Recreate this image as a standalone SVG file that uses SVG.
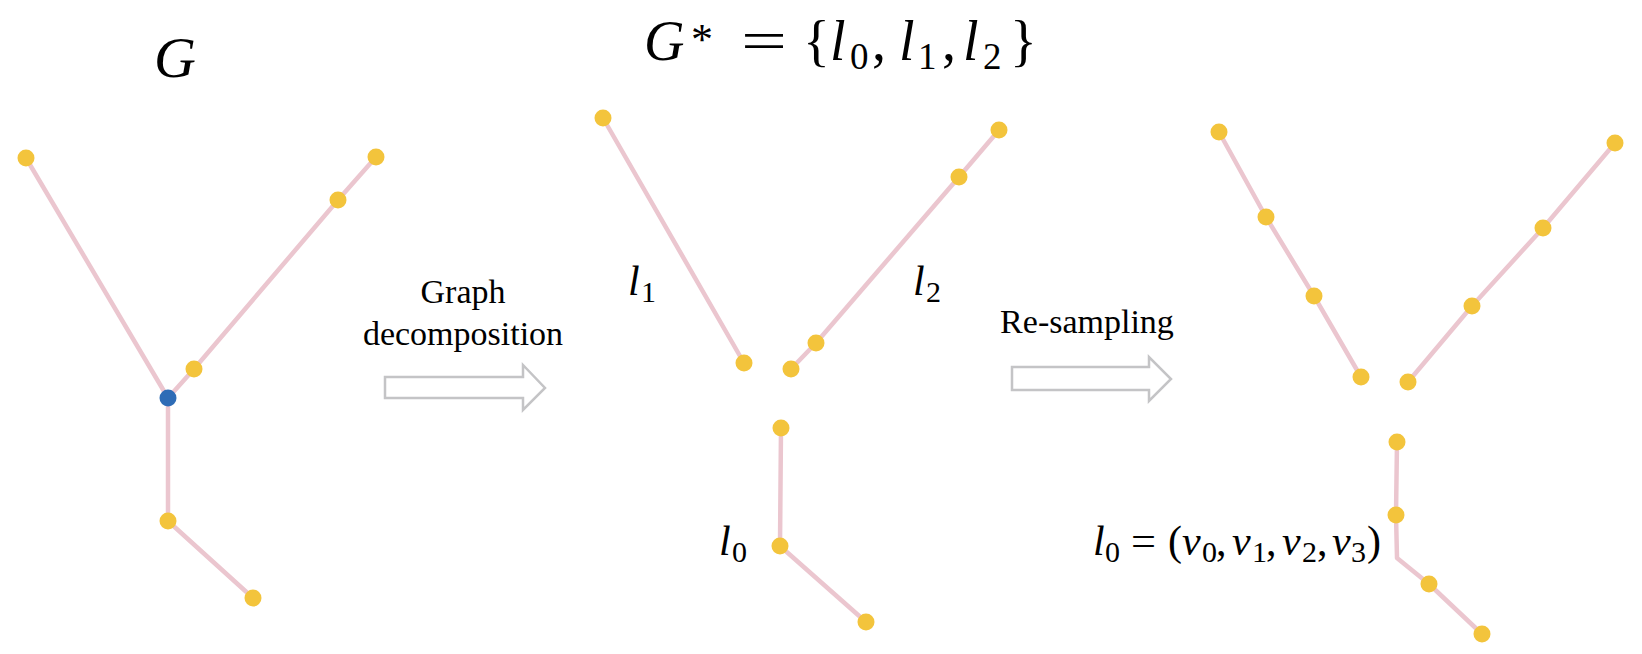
<svg xmlns="http://www.w3.org/2000/svg" width="1642" height="654" viewBox="0 0 1642 654">
<style>
.e{fill:none;stroke:#ebc6cf;stroke-width:4.5;stroke-linecap:round;stroke-linejoin:round}
.n{fill:#f3c43c}
.b{fill:#2e6cb6}
.m{font-family:"Liberation Serif",serif;fill:#000}
.i{font-style:italic}
.t{font-family:"Liberation Serif",serif;font-size:34px;fill:#000;text-anchor:middle}
.ar{fill:#fff;stroke:#c4c4c6;stroke-width:2.5;stroke-linejoin:miter}
</style>
<rect width="1642" height="654" fill="#fff"/>
<g id="connectors">
  <polyline class="e" points="26,158 168,398"/>
  <polyline class="e" points="168,398 194,369 338,200 376,157"/>
  <polyline class="e" points="168,398 168,521 253,598"/>
  <polyline class="e" points="603,118 744,363"/>
  <polyline class="e" points="999,130 959,177 816,343 791,369"/>
  <polyline class="e" points="781,428 780,546 866,622"/>
  <polyline class="e" points="1219,132 1266,217 1314,296 1361,377"/>
  <polyline class="e" points="1615,143 1543,228 1472,306 1408,382"/>
  <polyline class="e" points="1397,442 1396,515 1397,558 1429,584 1482,634"/>
  <path id="arrow1" class="ar" d="M385,377 H523 V365 L545,388 L523,410 V398 H385 Z"/>
  <path id="arrow2" class="ar" d="M1012,367 H1149 V357 L1171,379 L1149,401 V390 H1012 Z"/>
</g>
<g id="graph-G">
  <circle class="n" cx="26" cy="158" r="8.5"/>
  <circle class="n" cx="376" cy="157" r="8.5"/>
  <circle class="n" cx="338" cy="200" r="8.5"/>
  <circle class="n" cx="194" cy="369" r="8.5"/>
  <circle class="b" cx="168" cy="398" r="8.5"/>
  <circle class="n" cx="168" cy="521" r="8.5"/>
  <circle class="n" cx="253" cy="598" r="8.5"/>
</g>
<g id="graph-decomposed">
  <circle class="n" cx="603" cy="118" r="8.5"/>
  <circle class="n" cx="744" cy="363" r="8.5"/>
  <circle class="n" cx="999" cy="130" r="8.5"/>
  <circle class="n" cx="959" cy="177" r="8.5"/>
  <circle class="n" cx="816" cy="343" r="8.5"/>
  <circle class="n" cx="791" cy="369" r="8.5"/>
  <circle class="n" cx="781" cy="428" r="8.5"/>
  <circle class="n" cx="780" cy="546" r="8.5"/>
  <circle class="n" cx="866" cy="622" r="8.5"/>
</g>
<g id="graph-resampled">
  <circle class="n" cx="1219" cy="132" r="8.5"/>
  <circle class="n" cx="1266" cy="217" r="8.5"/>
  <circle class="n" cx="1314" cy="296" r="8.5"/>
  <circle class="n" cx="1361" cy="377" r="8.5"/>
  <circle class="n" cx="1615" cy="143" r="8.5"/>
  <circle class="n" cx="1543" cy="228" r="8.5"/>
  <circle class="n" cx="1472" cy="306" r="8.5"/>
  <circle class="n" cx="1408" cy="382" r="8.5"/>
  <circle class="n" cx="1397" cy="442" r="8.5"/>
  <circle class="n" cx="1396" cy="515" r="8.5"/>
  <circle class="n" cx="1429" cy="584" r="8.5"/>
  <circle class="n" cx="1482" cy="634" r="8.5"/>
</g>
<g id="labels">
  <text class="m i" x="154" y="77" font-size="58">G</text>
  <text class="m" font-size="56" y="60"><tspan class="i" x="644">G</tspan><tspan x="691" y="54" font-size="44">*</tspan><tspan x="803" y="60">{</tspan><tspan class="i" x="830">l</tspan><tspan x="850" y="69" font-size="37">0</tspan><tspan x="872" y="60">,</tspan><tspan class="i" x="899">l</tspan><tspan x="918" y="69" font-size="37">1</tspan><tspan x="942" y="60">,</tspan><tspan class="i" x="963">l</tspan><tspan x="983" y="69" font-size="37">2</tspan><tspan x="1010" y="60">}</tspan></text>
  <text class="m" font-size="56" x="741" y="60" textLength="46" lengthAdjust="spacingAndGlyphs">=</text>
  <text class="m" font-size="42" y="295"><tspan class="i" x="628">l</tspan><tspan x="641" y="302" font-size="30">1</tspan></text>
  <text class="m" font-size="42" y="295"><tspan class="i" x="913">l</tspan><tspan x="926" y="302" font-size="30">2</tspan></text>
  <text class="m" font-size="42" y="555"><tspan class="i" x="719">l</tspan><tspan x="732" y="562" font-size="30">0</tspan></text>
  <text class="m" font-size="42" y="555"><tspan class="i" x="1093">l</tspan><tspan x="1105" y="562" font-size="30">0</tspan><tspan x="1168" y="555">(</tspan><tspan class="i" x="1182">v</tspan><tspan x="1202" y="562" font-size="30">0</tspan><tspan x="1216" y="555">,</tspan><tspan class="i" x="1232">v</tspan><tspan x="1252" y="562" font-size="30">1</tspan><tspan x="1266" y="555">,</tspan><tspan class="i" x="1282">v</tspan><tspan x="1302" y="562" font-size="30">2</tspan><tspan x="1317" y="555">,</tspan><tspan class="i" x="1332">v</tspan><tspan x="1351" y="562" font-size="30">3</tspan><tspan x="1367" y="555">)</tspan></text>
  <text class="m" font-size="42" x="1131" y="555" textLength="25" lengthAdjust="spacingAndGlyphs">=</text>
  <text class="t" x="463" y="303">Graph</text>
  <text class="t" x="463" y="345">decomposition</text>
  <text class="t" x="1087" y="333">Re-sampling</text>
</g>
</svg>
